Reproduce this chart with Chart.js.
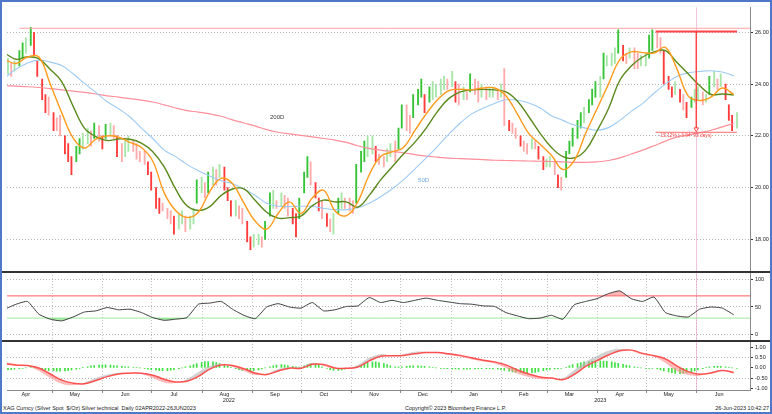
<!DOCTYPE html>
<html lang="en">
<head>
<meta charset="UTF-8">
<title>XAG Curncy - Silver technical</title>
<style>
    body {
        margin: 0;
        background: #fff;
        font-family: "Liberation Sans", Arial, sans-serif;
    }
    .frame {
        position: absolute;
        left: 0;
        top: 0;
        width: 772px;
        height: 414px;
        box-sizing: border-box;
        border: 2px solid #4f78c8;
        background: #fff;
    }
    .chart-box {
        position: absolute;
        left: 0;
        top: 0;
        width: 768px;
        height: 402px;
    }
    .foot {
        position: absolute;
        top: 403px;
        font-size: 5.5px;
        line-height: 6px;
        color: #222;
        white-space: nowrap;
    }
</style>
</head>
<body>
<div class="frame">
    <div class="chart-box"><canvas id="chart"></canvas></div>
    <div class="foot" style="left:1px">XAG Curncy (Silver Spot &nbsp;$/Oz) Silver technical &nbsp;Daily 02APR2022-26JUN2023</div>
    <div class="foot" style="left:403px">Copyright© 2023 Bloomberg Finance L.P.</div>
    <div class="foot" style="right:1px">26-Jun-2023 10:42:27</div>
</div>

<script src="https://cdn.jsdelivr.net/npm/chart.js@4.4.0/dist/chart.umd.js"></script>
<script>
    // ---- tick labels ----
    const monthLabels = ['Apr', 'May', 'Jun', 'Jul', 'Aug', 'Sep', 'Oct', 'Nov', 'Dec', 'Jan', 'Feb', 'Mar', 'Apr', 'May', 'Jun'];
    const yearLabels = ['2022', '2023'];
    const priceTicks = [18, 20, 22, 24, 26];
    const rsiTicks = [0, 50, 100];
    const macdTicks = [-1, -0.5, 0, 0.5, 1];

    // ---- daily bars, sampled Mon / Wed / Fri from 04-Apr-2022 (last one Mon 26-Jun-2023) ----
    const barHigh = [
        25.0, 24.8, 24.9, 25.3, 25.6, 25.8, 26.2, 26.0, 24.9, 24.2, 23.6, 23.5,
        22.9, 22.7, 22.8, 22.0, 21.7, 21.2, 21.6, 21.9, 22.1, 22.3, 22.2, 22.5, 22.4, 22.0, 22.45,
        22.5, 22.4, 22.0, 21.7, 21.8, 22.0, 21.8, 21.7, 21.4, 21.4, 21.0, 20.6,
        20.0, 19.6, 19.4, 19.2, 19.1, 18.9, 19.0, 19.1, 18.9, 18.9, 19.2, 20.3,
        20.4, 20.2, 20.6, 20.8, 20.7, 20.9, 20.8, 20.0, 19.5, 19.5, 19.3, 19.2, 18.7, 18.1, 18.2,
        18.2, 18.1, 18.7, 19.8, 19.9, 19.5, 19.8, 19.7, 19.6, 19.2, 19.0, 19.6,
        20.6, 21.2, 21.0, 20.2, 19.6, 19.5, 19.0, 18.8, 19.0, 19.6, 19.8, 19.6, 19.6, 19.5, 20.9,
        21.4, 21.8, 22.0, 22.0, 21.6, 21.3, 21.2, 21.5, 21.7, 21.8, 22.3, 23.2,
        23.2, 22.8, 23.6, 23.8, 24.2, 23.6, 23.9, 24.1, 24.0, 24.2, 24.3, 24.2,
        24.5, 24.1, 24.0, 23.9, 23.7, 24.4, 24.2, 24.1, 24.0, 23.9, 23.9, 23.9, 23.8, 24.0, 24.6,
        22.6, 22.5, 22.3, 22.0, 21.8, 21.7, 21.9, 21.8, 21.6, 21.2, 21.1, 21.2,
        21.0, 20.5, 20.4, 21.4, 21.8, 22.3, 22.6, 22.9, 23.1, 23.4, 23.8, 24.1,
        24.3, 25.2, 25.1, 25.2, 25.4, 26.1, 25.5, 25.2, 25.4, 25.4, 25.2, 25.1,
        25.2, 25.9, 26.1, 26.0, 25.8, 25.3, 24.3, 23.9, 24.1, 23.8, 23.6, 23.3, 23.5, 23.8, 23.9,
        23.7, 23.6, 24.3, 24.5, 24.2, 24.4, 24.0, 23.2, 22.8, 22.9
    ];
    const barLow = [
        24.4, 24.3, 24.5, 24.7, 25.0, 25.2, 25.5, 25.1, 24.3, 23.4, 22.9, 22.8,
        22.2, 22.2, 22.0, 21.3, 21.0, 20.5, 21.0, 21.3, 21.5, 21.7, 21.6, 21.9, 21.8, 21.5, 21.9,
        22.0, 21.9, 21.2, 21.0, 21.2, 21.4, 21.4, 21.1, 21.0, 20.9, 20.5, 19.9,
        19.2, 19.0, 19.1, 18.8, 18.6, 18.2, 18.4, 18.6, 18.3, 18.4, 18.6, 19.4,
        19.8, 19.6, 19.8, 20.1, 20.1, 20.4, 19.9, 19.5, 18.9, 18.9, 18.8, 18.6, 17.9, 17.6, 17.7,
        17.8, 17.7, 18.0, 18.9, 19.2, 19.2, 19.3, 19.2, 18.9, 18.6, 18.1, 18.8,
        19.8, 20.4, 20.1, 19.6, 19.1, 18.8, 18.5, 18.3, 18.2, 19.0, 19.2, 19.2, 19.1, 19.0, 19.4,
        20.6, 21.0, 21.2, 21.3, 21.0, 20.9, 20.8, 21.0, 21.2, 21.0, 21.5, 22.3,
        22.2, 22.1, 22.7, 23.2, 23.5, 22.9, 23.3, 23.4, 23.5, 23.6, 23.8, 23.8,
        23.9, 23.3, 23.2, 23.4, 23.4, 23.7, 23.6, 23.3, 23.5, 23.4, 23.5, 23.5, 23.4, 23.5, 22.4,
        22.2, 22.1, 21.9, 21.6, 21.4, 21.3, 21.5, 21.5, 21.1, 20.7, 20.8, 20.8,
        20.5, 20.0, 19.9, 20.4, 21.3, 21.6, 21.9, 22.3, 22.5, 22.9, 23.2, 23.5,
        23.5, 24.2, 24.7, 24.7, 24.8, 25.2, 24.9, 24.8, 25.0, 24.6, 24.6, 24.7,
        24.7, 25.0, 25.3, 25.4, 25.2, 24.0, 23.8, 23.5, 23.6, 23.3, 23.0, 22.7, 23.1, 23.3, 23.4,
        23.2, 23.3, 23.6, 23.9, 23.8, 23.9, 23.4, 22.6, 22.2, 22.3
    ];
    // MACD histogram, same days as the bars
    const macdHist = [
        -0.08, -0.08, -0.06, -0.04, -0.02, 0.0, 0.02, 0.0, -0.03, -0.06, -0.1, -0.13,
        -0.15, -0.16, -0.16, -0.15, -0.13, -0.1, -0.06, -0.02, 0.02, 0.06, 0.1, 0.12, 0.14, 0.15, 0.15,
        0.14, 0.12, 0.1, 0.08, 0.06, 0.05, 0.03, 0.02, 0.0, -0.03, -0.06, -0.09,
        -0.11, -0.13, -0.14, -0.13, -0.11, -0.08, -0.04, 0.0, 0.05, 0.1, 0.16, 0.22,
        0.27, 0.31, 0.32, 0.3, 0.26, 0.21, 0.15, 0.08, 0.02, -0.04, -0.08, -0.12, -0.14, -0.15, -0.14,
        -0.1, -0.05, 0.0, 0.06, 0.1, 0.14, 0.16, 0.15, 0.12, 0.08, 0.05, 0.04,
        0.1, 0.17, 0.22, 0.2, 0.14, 0.06, -0.02, -0.08, -0.12, -0.12, -0.1, -0.06, -0.02, 0.02, 0.06,
        0.12, 0.2, 0.26, 0.3, 0.3, 0.27, 0.22, 0.16, 0.1, 0.06, 0.05, 0.06,
        0.08, 0.1, 0.1, 0.1, 0.09, 0.08, 0.05, 0.03, 0.0, -0.02, -0.03, -0.04,
        -0.05, -0.05, -0.06, -0.06, -0.06, -0.05, -0.05, -0.04, -0.04, -0.04, -0.04, -0.05, -0.06, -0.08, -0.12,
        -0.16, -0.2, -0.22, -0.24, -0.25, -0.25, -0.24, -0.22, -0.18, -0.14, -0.1, -0.07,
        -0.05, -0.04, -0.02, 0.03, 0.1, 0.16, 0.22, 0.27, 0.3, 0.32, 0.34, 0.35,
        0.35, 0.34, 0.33, 0.3, 0.27, 0.23, 0.18, 0.14, 0.1, 0.06, 0.03, 0.0,
        -0.02, -0.03, -0.02, -0.05, -0.1, -0.15, -0.2, -0.24, -0.27, -0.28, -0.27, -0.24, -0.2, -0.15, -0.1,
        -0.04, 0.02, 0.06, 0.08, 0.09, 0.08, 0.06, 0.03, 0.0, -0.03
    ];

    // ---- weekly readings (every Saturday from 02-Apr-2022) ----
    const maFast = [
        24.95, 24.8, 25.05, 25.05, 24.0, 22.9, 21.92, 21.53, 21.88, 22.0,
        21.95, 21.75, 21.55, 21.02, 19.8, 19.12, 18.85, 19.05, 19.85, 20.36,
        20.15, 19.4, 18.7, 18.4, 19.0, 19.45, 19.0, 19.6, 19.9, 19.1,
        18.92, 19.45, 20.5, 21.2, 21.38, 21.55, 22.2, 22.85, 23.4, 23.75,
        23.8, 23.78, 23.85, 23.85, 23.55, 22.85, 22.1, 21.68, 21.25, 20.7,
        21.05, 22.1, 23.05, 24.0, 24.95, 25.25, 25.22, 25.2, 25.42, 24.6,
        23.55, 23.37, 23.5, 23.85, 23.6
    ];
    const maMid = [
        25.2, 24.96, 25.06, 24.98, 24.57, 24.1, 23.15, 22.3, 21.97, 21.82,
        21.88, 21.87, 21.72, 21.39, 20.8, 19.95, 19.3, 19.12, 19.27, 19.7,
        19.95, 19.95, 19.5, 19.05, 18.82, 18.84, 18.9, 19.3, 19.52, 19.45,
        19.45, 19.25, 19.7, 20.3, 20.8, 21.3, 21.75, 22.3, 22.95, 23.45,
        23.7, 23.78, 23.8, 23.78, 23.7, 23.35, 22.75, 22.1, 21.55, 21.2,
        21.15, 21.45, 22.2, 23.05, 24.15, 24.7, 25.05, 25.25, 25.3, 24.85,
        24.4, 23.95, 23.6, 23.62, 23.58
    ];
    const ma50 = [
        24.25, 24.58, 24.82, 24.93, 24.85, 24.72, 24.4, 24.03, 23.68, 23.32,
        23.05, 22.73, 22.3, 21.9, 21.45, 21.2, 20.9, 20.65, 20.45, 20.27,
        20.15, 19.95, 19.7, 19.4, 19.28, 19.27, 19.28, 19.28, 19.2, 19.15,
        19.15, 19.22, 19.4, 19.65, 19.95, 20.3, 20.72, 21.15, 21.6, 22.07,
        22.5, 22.85, 23.07, 23.25, 23.4, 23.38, 23.27, 23.08, 22.78, 22.6,
        22.42, 22.3, 22.22, 22.32, 22.6, 22.95, 23.25, 23.65, 24.0, 24.3,
        24.44, 24.49, 24.52, 24.47, 24.32
    ];
    const ma200 = [
        23.94, 23.92, 23.9, 23.87, 23.83, 23.78, 23.73, 23.68, 23.62, 23.55,
        23.5, 23.44, 23.38, 23.31, 23.2, 23.08, 22.98, 22.92, 22.85, 22.76,
        22.62, 22.5, 22.38, 22.24, 22.14, 22.08, 22.02, 21.96, 21.9, 21.84,
        21.75, 21.62, 21.52, 21.45, 21.4, 21.35, 21.28, 21.22, 21.18, 21.14,
        21.12, 21.1, 21.08, 21.06, 21.05, 21.04, 21.03, 21.02, 21.01, 21.0,
        20.98, 20.98, 21.0, 21.05, 21.15, 21.3, 21.45, 21.62, 21.8, 21.95,
        22.04, 22.12, 22.22, 22.35, 22.48
    ];
    const rsi = [
        46, 55, 60, 37, 28, 25, 32, 41, 43, 49,
        45, 46, 40, 31, 26, 28, 31, 55, 57, 60,
        46, 35, 29, 50, 56, 50, 48, 58, 43, 45,
        51, 52, 67, 58, 62, 58, 62, 66, 62, 59,
        56, 55, 52, 51, 40, 34, 29, 30, 35, 28,
        54, 60, 65, 74, 79, 65, 60, 68, 40, 34,
        32, 46, 50, 48, 36
    ];
    const macdSignal = [
        0.23, 0.15, 0.12, 0.0, -0.3, -0.6, -0.75, -0.78, -0.62, -0.43,
        -0.3, -0.26, -0.26, -0.36, -0.56, -0.69, -0.66, -0.42, -0.06, 0.14,
        0.12, -0.04, -0.26, -0.33, -0.15, -0.01, -0.02, 0.18, 0.17, 0.0,
        -0.02, 0.05, 0.35, 0.58, 0.6, 0.62, 0.7, 0.76, 0.76, 0.7,
        0.62, 0.5, 0.38, 0.3, 0.15, -0.1, -0.3, -0.45, -0.5, -0.58,
        -0.32, 0.08, 0.36, 0.64, 0.85, 0.88, 0.72, 0.6, 0.45, 0.1,
        -0.18, -0.31, -0.25, -0.13, -0.22
    ];
    const macdLine = [
        0.18, 0.1, 0.1, -0.15, -0.5, -0.78, -0.85, -0.72, -0.5, -0.33,
        -0.24, -0.24, -0.3, -0.5, -0.72, -0.75, -0.55, -0.2, 0.1, 0.2,
        0.05, -0.15, -0.35, -0.28, -0.05, 0.03, 0.05, 0.25, 0.1, -0.05,
        0.0, 0.15, 0.5, 0.68, 0.62, 0.68, 0.8, 0.8, 0.74, 0.64,
        0.55, 0.42, 0.32, 0.22, 0.0, -0.28, -0.45, -0.55, -0.55, -0.5,
        -0.1, 0.3, 0.6, 0.85, 0.95, 0.85, 0.65, 0.55, 0.25, -0.15,
        -0.35, -0.38, -0.2, -0.1, -0.3
    ];

    // ---- levels and the drawn measurement ----
    const rsiUpper = 70;
    const rsiLower = 30;
    const aprilHigh = 26.16;
    const measHigh = 26.03;
    const measLow = 22.14;
    const measArrow = 22.26;
    const measText = '-15.12% (-3.94  93 days)';

    // ---- calendar (days since 02-Apr-2022) ----
    const START = Date.UTC(2022, 3, 2);
    const dayOf = (y, m, d) => (Date.UTC(y, m - 1, d) - START) / 864e5;
    const X_MIN = 1.4, X_MAX = 458;
    const monthMid = monthLabels.map((_, i) => dayOf(2022 + Math.floor((3 + i) / 12), (3 + i) % 12 + 1, 15));
    const monthStart = monthLabels.slice(1).map((_, i) => dayOf(2022 + Math.floor((4 + i) / 12), (4 + i) % 12 + 1, 1));
    const yearCenter = [(X_MIN + dayOf(2023, 1, 1)) / 2, (dayOf(2023, 1, 1) + X_MAX) / 2];
    const barDays = barHigh.map((_, k) => 2 + 7 * Math.floor(k / 3) + 2 * (k % 3));
    const weekDays = maFast.map((_, k) => 7 * k);
    const highLineStart = dayOf(2022, 4, 11);
    const measStart = dayOf(2023, 5, 7);
    const measEnd = dayOf(2023, 6, 26);
    const cursorDay = dayOf(2023, 6, 1);

    const notes = [
        { text: '200D', day: dayOf(2022, 9, 12), value: 22.71, color: '#3a3a3a', size: 6 },
        { text: '50D', day: dayOf(2022, 12, 12), value: 20.3, color: '#6fa8e8', size: 6 },
        { text: measText, day: dayOf(2023, 5, 9), value: 22.0, color: '#ff4d4d', size: 4.8 }
    ];

    const pts = (days, vals) => days.map((d, i) => ({ x: d, y: vals[i] }));

    // bar colour from the move of the bar's midpoint
    const barColors = barHigh.map((h, i) => {
        const mid = (h + barLow[i]) / 2;
        const prev = i ? (barHigh[i - 1] + barLow[i - 1]) / 2 : mid;
        const ch = mid - prev;
        if (ch >= 0) return ch > 0.25 ? '#35c435' : '#a8e6a8';
        return ch < -0.25 ? '#ff3b3b' : '#ffabab';
    });

    function line(data, color, width, yAxisID, extra) {
        return Object.assign({
            type: 'line', data, borderColor: color, borderWidth: width,
            pointRadius: 0, tension: 0.4, fill: false, yAxisID
        }, extra || {});
    }

    const datasets = [
        line(pts([measStart, measEnd], [measHigh, measHigh]), '#ff4545', 2, 'y', { tension: 0 }),
        line(pts([cursorDay, cursorDay], [measHigh, measArrow]), '#ff4545', 1.5, 'y', {
            tension: 0, pointRadius: [0, 2.6], pointStyle: 'triangle', rotation: 180,
            pointBackgroundColor: '#fff', pointBorderColor: '#ff4545', pointBorderWidth: 1
        }),
        line(pts([measStart, measEnd], [measLow, measLow]), '#ff6a6a', 1, 'y', { tension: 0 }),
        line(pts(weekDays, maFast), '#ff9a1a', 1.4, 'y'),
        line(pts(weekDays, maMid), '#5a8a1c', 1.4, 'y'),
        line(pts(weekDays, ma50), '#9dcbf5', 1.1, 'y'),
        line(pts(weekDays, ma200), '#ff8f9a', 1.2, 'y'),
        line(pts([highLineStart, X_MAX], [aprilHigh, aprilHigh]), '#ffa0a0', 1, 'y', { tension: 0 }),
        {
            type: 'bar', yAxisID: 'y', grouped: false, barThickness: 1.2,
            data: barDays.map((d, i) => ({ x: d, y: [barLow[i], barHigh[i]] })),
            backgroundColor: barColors, borderWidth: 0
        },
        line(pts(weekDays, rsi), '#3c3c3c', 1, 'yRsi', {
            tension: 0.15,
            fill: { value: rsiUpper, above: 'rgba(255,120,120,0.55)', below: 'rgba(0,0,0,0)' }
        }),
        line(pts(weekDays, rsi), 'rgba(0,0,0,0)', 0, 'yRsi', {
            tension: 0.15,
            fill: { value: rsiLower, above: 'rgba(0,0,0,0)', below: 'rgba(110,220,110,0.55)' }
        }),
        line(pts([X_MIN, X_MAX], [rsiUpper, rsiUpper]), '#ff5a5a', 1, 'yRsi', { tension: 0 }),
        line(pts([X_MIN, X_MAX], [rsiLower, rsiLower]), '#9ee89e', 1, 'yRsi', { tension: 0 }),
        line(pts(weekDays, macdSignal), '#ff5050', 1.5, 'yMacd'),
        line(pts(weekDays, macdLine), 'rgba(0,0,0,0)', 0, 'yMacd', {
            fill: { target: '-1', above: 'rgba(180,180,180,0.6)', below: 'rgba(255,140,140,0.6)' }
        }),
        {
            type: 'bar', yAxisID: 'yMacd', grouped: false, barThickness: 1,
            data: pts(barDays, macdHist), backgroundColor: '#3fe03f', borderWidth: 0
        }
    ];

    const axisFont = { family: "'Liberation Sans', Arial, sans-serif", size: 5.5 };

    function panelAxis(min, max, weight, ticks, fmt, gridColor) {
        return {
            type: 'linear', position: 'right', stack: 'panels', stackWeight: weight,
            min, max, bounds: 'data', offset: false, beginAtZero: false,
            afterBuildTicks: s => { s.ticks = ticks.map(v => ({ value: v })); },
            afterFit: s => { s.width = 20; },
            grid: { color: gridColor, lineWidth: 1, drawTicks: true, tickLength: 3, tickColor: '#333' },
            border: { display: true, color: '#8a8a8a', dash: [1, 2] },
            ticks: { autoSkip: false, padding: 2, color: '#222', font: axisFont, callback: fmt }
        };
    }

    // panel chrome: month grid in lower panels, cursor, separators, notes
    const panelPlugin = {
        id: 'panels',
        beforeDatasetsDraw(chart) {
            const { ctx, scales } = chart;
            ctx.save();
            ctx.lineWidth = 1;
            ctx.strokeStyle = '#c2c2c2';
            ctx.setLineDash([1, 2]);
            monthStart.forEach(d => {
                const px = Math.round(scales.x.getPixelForValue(d)) + 0.5;
                ctx.beginPath();
                ctx.moveTo(px, scales.yRsi.top);
                ctx.lineTo(px, scales.yMacd.bottom);
                ctx.stroke();
            });
            ctx.setLineDash([]);
            ctx.strokeStyle = '#888';
            monthStart.forEach(d => {
                const px = Math.round(scales.x.getPixelForValue(d)) + 0.5;
                ctx.beginPath();
                ctx.moveTo(px, scales.yMacd.bottom);
                ctx.lineTo(px, scales.yMacd.bottom + 3);
                ctx.stroke();
            });
            const cx = Math.round(scales.x.getPixelForValue(cursorDay)) + 0.5;
            ctx.strokeStyle = 'rgba(235,150,200,0.55)';
            ctx.beginPath();
            ctx.moveTo(cx, chart.chartArea.top);
            ctx.lineTo(cx, scales.yMacd.bottom);
            ctx.stroke();
            ctx.restore();
        },
        afterDraw(chart) {
            const { ctx, scales } = chart;
            ctx.save();
            ctx.fillStyle = '#333';
            [scales.yRsi.top, scales.yMacd.top].forEach(t => ctx.fillRect(0, Math.round(t) - 1, chart.width, 2));
            ctx.textAlign = 'left';
            ctx.textBaseline = 'middle';
            notes.forEach(n => {
                ctx.fillStyle = n.color;
                ctx.font = n.size + "px 'Liberation Sans', Arial, sans-serif";
                ctx.fillText(n.text, scales.x.getPixelForValue(n.day), scales.y.getPixelForValue(n.value));
            });
            ctx.restore();
        }
    };

    new Chart(document.getElementById('chart'), {
        type: 'line',
        data: { datasets },
        options: {
            responsive: true,
            maintainAspectRatio: false,
            animation: false,
            events: [],
            layout: { padding: { left: 1, top: 2, right: 0, bottom: 0 } },
            plugins: { legend: { display: false }, tooltip: { enabled: false } },
            scales: {
                x: {
                    type: 'linear', position: 'bottom', min: X_MIN, max: X_MAX, bounds: 'data', offset: false,
                    afterBuildTicks: s => { s.ticks = monthMid.map(v => ({ value: v })); },
                    afterFit: s => { s.height = 7; },
                    grid: { display: false, drawTicks: false, offset: false },
                    border: { display: true, color: '#8a8a8a' },
                    ticks: { autoSkip: false, maxRotation: 0, minRotation: 0, padding: 1, color: '#222', font: axisFont,
                        callback: (v, i) => monthLabels[i] }
                },
                xYear: {
                    type: 'linear', position: 'bottom', min: X_MIN, max: X_MAX, bounds: 'data', offset: false,
                    afterBuildTicks: s => { s.ticks = yearCenter.map(v => ({ value: v })); },
                    afterFit: s => { s.height = 7; },
                    grid: { display: false, drawTicks: false, offset: false },
                    border: { display: false },
                    ticks: { autoSkip: false, maxRotation: 0, minRotation: 0, padding: 0, color: '#222', font: axisFont,
                        callback: (v, i) => yearLabels[i] }
                },
                y: panelAxis(16.74, 26.97, 267, priceTicks, v => v.toFixed(2), '#b5b5b5'),
                yRsi: panelAxis(-12, 113, 70, rsiTicks, v => String(v), '#b5b5b5'),
                yMacd: panelAxis(-1.09, 1.31, 49, macdTicks, v => v.toFixed(2),
                    c => (c.tick && Math.abs(c.tick.value) === 0.5) ? '#b5b5b5' : 'rgba(0,0,0,0)')
            }
        },
        plugins: [panelPlugin]
    });
</script>
</body>
</html>
